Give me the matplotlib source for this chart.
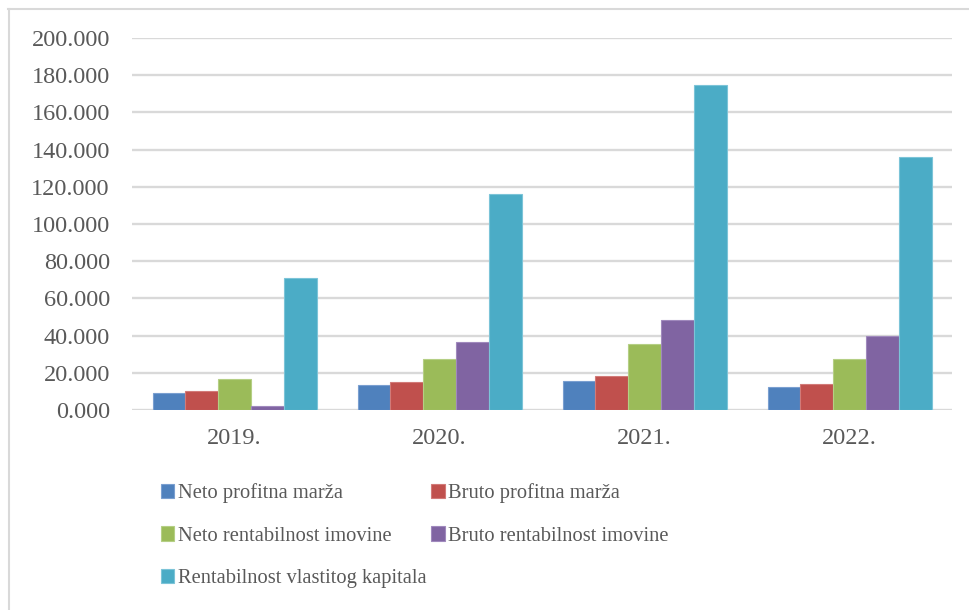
import matplotlib.pyplot as plt
import numpy as np
from matplotlib.lines import Line2D
from matplotlib.patches import Patch

years = ["2019.", "2020.", "2021.", "2022."]
series_names = [
    "Neto profitna marža",
    "Bruto profitna marža",
    "Neto rentabilnost imovine",
    "Bruto rentabilnost imovine",
    "Rentabilnost vlastitog kapitala",
]
neto_profitna = [9.0, 13.6, 15.8, 12.2]
bruto_profitna = [10.2, 15.1, 18.1, 14.1]
neto_imovina = [16.5, 27.4, 35.5, 27.4]
bruto_imovina = [2.0, 36.7, 48.4, 39.8]
vlastiti_kapital = [71.0, 116.0, 174.7, 136.0]
y_ticks = [0, 20, 40, 60, 80, 100, 120, 140, 160, 180, 200]

colors = ["#4F81BD", "#C0504D", "#9BBB59", "#8064A2", "#4BACC6"]
edges = ["#7A9FD0", "#D27A78", "#B5CF85", "#A089BD", "#7CC4D8"]
text_color = "#595959"
font = "Liberation Serif"

values = [neto_profitna, bruto_profitna, neto_imovina, bruto_imovina, vlastiti_kapital]

fig = plt.figure(figsize=(9.69, 6.10), dpi=100)
ax = fig.add_axes([132 / 969, 1 - 410 / 610, 820 / 969, 372 / 610])

x = np.arange(len(years))
width = 0.16
for i, (vals, c, e) in enumerate(zip(values, colors, edges)):
    ax.bar(x + (i - 2) * width, vals, width, color=c, edgecolor=e,
           linewidth=0.8, zorder=3)

ax.set_xlim(-0.5, len(years) - 0.5)
ax.set_ylim(0, 200)
ax.set_yticks(y_ticks)
ax.set_yticklabels([f"{v}.000" for v in y_ticks], fontsize=17.5,
                   family=font, color=text_color)
ax.set_xticks(x)
ax.set_xticklabels(years, fontsize=17.5, family=font, color=text_color)
ax.tick_params(axis="y", length=0, pad=16)
ax.tick_params(axis="x", length=0, pad=13)
ax.grid(axis="y", color="#D9D9D9", linewidth=1.7, zorder=0)
for s in ax.spines.values():
    s.set_visible(False)

# legend filled row by row: matplotlib fills columns, so reorder entries
order = [0, 2, 4, 1, 3]
handles = [Patch(facecolor=colors[k], edgecolor=edges[k], linewidth=0.8) for k in order]
labels = [series_names[k] for k in order]
leg = fig.legend(handles, labels, loc="upper left",
                 bbox_to_anchor=(142 / 969, 1 - 465 / 610), ncol=2,
                 frameon=False, handlelength=0.68, handleheight=0.68,
                 handletextpad=0.15, columnspacing=0.25, labelspacing=1.12,
                 prop={"family": font, "size": 14.8})
for t in leg.get_texts():
    t.set_color(text_color)

# outer chart border (top and left edges)
fig.add_artist(Line2D([8 / 969, 1], [1 - 8.5 / 610] * 2, color="#D9D9D9", linewidth=1.5))
fig.add_artist(Line2D([8.5 / 969] * 2, [0, 1 - 8.5 / 610], color="#D9D9D9", linewidth=1.5))

fig.savefig("out.png", dpi=100, facecolor="white")
